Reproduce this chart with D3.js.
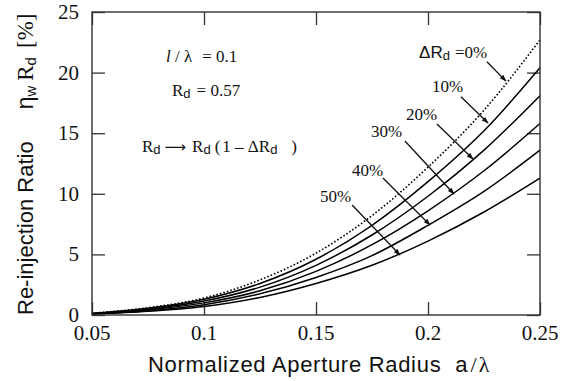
<!DOCTYPE html>
<html>
<head>
<meta charset="utf-8">
<script src="https://cdn.jsdelivr.net/npm/d3@7"></script>
<style>
  body { margin: 0; background: #fff; }
  svg { display: block; }
</style>
</head>
<body>
<svg id="chart" width="571" height="381"></svg>
<script>
// Normalized aperture radius a/lambda (sample points)
var radius = [0.05, 0.075, 0.1, 0.125, 0.15, 0.175, 0.2, 0.225, 0.25];

// Re-injection ratio [%] for each reflectance drop
var ratio0  = [0.15, 0.6, 1.4, 2.9, 5.1, 8.2, 12.2, 16.9, 22.7];
var ratio10 = [0.13, 0.55, 1.3, 2.6, 4.6, 7.4, 11.0, 15.2, 20.4];
var ratio20 = [0.12, 0.48, 1.15, 2.3, 4.1, 6.6, 9.8, 13.6, 18.1];
var ratio30 = [0.1, 0.42, 1.0, 2.0, 3.6, 5.8, 8.6, 11.9, 15.8];
var ratio40 = [0.09, 0.36, 0.85, 1.75, 3.1, 4.9, 7.4, 10.2, 13.6];
var ratio50 = [0.08, 0.3, 0.7, 1.45, 2.6, 4.1, 6.1, 8.5, 11.3];

var seriesNames = ['0%', '10%', '20%', '30%', '40%', '50%'];
var seriesValues = [ratio0, ratio10, ratio20, ratio30, ratio40, ratio50];

// Tick values
var xTicks = [0.05, 0.1, 0.15, 0.2, 0.25];
var xTickLabels = ['0.05', '0.1', '0.15', '0.2', '0.25'];
var yTicks = [0, 5, 10, 15, 20, 25];

// Label arrows in data units: label anchor, arrow start, arrow tip
var arrowLabels = ['10%', '20%', '30%', '40%', '50%'];
var labelA   = [0.2018, 0.1902, 0.1746, 0.1661, 0.1518];
var labelV   = [18.4, 16.09, 14.69, 11.47, 9.32];
var startA   = [0.2147, 0.2040, 0.1897, 0.1799, 0.1661];
var startV   = [18.0, 15.76, 14.36, 11.3, 9.08];
var tipA     = [0.2268, 0.2201, 0.2116, 0.2009, 0.1875];
var tipV     = [15.84, 12.87, 9.98, 7.43, 4.95];

var SERIF = '"Liberation Serif", "Times New Roman", "DejaVu Serif", serif';
var SANS = '"Liberation Sans", Arial, Helvetica, sans-serif';

var svg = d3.select('#chart');
var margin = {left: 92, right: 31, top: 12, bottom: 66};
var width = 571 - margin.left - margin.right;
var height = 381 - margin.top - margin.bottom;

var x = d3.scaleLinear().domain([0.05, 0.25]).range([0, width]);
var y = d3.scaleLinear().domain([0, 25]).range([height, 0]);

var g = svg.append('g')
    .attr('transform', 'translate(' + margin.left + ',' + margin.top + ')');

// Arrow marker
svg.append('defs').append('marker')
    .attr('id', 'head')
    .attr('viewBox', '0 0 10 10')
    .attr('refX', 9).attr('refY', 5)
    .attr('markerWidth', 8).attr('markerHeight', 7)
    .attr('markerUnits', 'userSpaceOnUse')
    .attr('orient', 'auto')
    .append('path')
    .attr('d', 'M0,1.5 L10,5 L0,8.5 Z')
    .attr('fill', '#111');

// Inner ticks on all four sides
var tickLen = 13;
function noDomain(s){ s.select('.domain').remove(); }
g.append('g')
    .attr('transform', 'translate(0,' + height + ')')
    .call(d3.axisTop(x).tickValues(xTicks).tickSize(tickLen).tickFormat(''))
    .call(noDomain);
g.append('g')
    .call(d3.axisBottom(x).tickValues(xTicks).tickSize(tickLen).tickFormat(''))
    .call(noDomain);
g.append('g')
    .call(d3.axisRight(y).tickValues(yTicks).tickSize(tickLen).tickFormat(''))
    .call(noDomain);
g.append('g')
    .attr('transform', 'translate(' + width + ',0)')
    .call(d3.axisLeft(y).tickValues(yTicks).tickSize(tickLen).tickFormat(''))
    .call(noDomain);
g.selectAll('.tick line').attr('stroke', '#333').attr('stroke-width', 1.3);

// Tick labels
g.selectAll('.xlab')
    .data(xTicks)
    .enter().append('text')
    .attr('class', 'xlab')
    .style('font-family', SERIF).style('font-size', '21px')
    .attr('fill', '#111')
    .attr('x', function(d){ return x(d); })
    .attr('y', height + 25)
    .attr('text-anchor', 'middle')
    .text(function(d, i){ return xTickLabels[i]; });

g.selectAll('.ylab')
    .data(yTicks)
    .enter().append('text')
    .attr('class', 'ylab')
    .style('font-family', SERIF).style('font-size', '21px')
    .attr('fill', '#111')
    .attr('x', -13)
    .attr('y', function(d){ return y(d) + 7; })
    .attr('text-anchor', 'end')
    .text(function(d){ return d; });

// Curves
var line = d3.line()
    .x(function(d){ return x(d[0]); })
    .y(function(d){ return y(d[1]); })
    .curve(d3.curveMonotoneX);

seriesValues.forEach(function(vals, i){
    g.append('path')
        .datum(radius.map(function(r, k){ return [r, vals[k]]; }))
        .attr('fill', 'none')
        .attr('stroke', '#000')
        .attr('stroke-width', i === 0 ? 1.6 : 1.5)
        .attr('stroke-dasharray', i === 0 ? '1.6,2' : null)
        .attr('d', line);
});

// Frame
g.append('rect')
    .attr('width', width).attr('height', height)
    .attr('fill', 'none')
    .attr('stroke', '#333')
    .attr('stroke-width', 1.4);

function note(sel){
    return sel.style('font-family', SERIF).style('font-size', '17px').attr('fill', '#111');
}
function sub(t, txt){
    t.append('tspan').style('font-family', SANS).style('font-size', '13px')
        .attr('dy', 2).text(txt);
}

// Arrows and percentage labels
arrowLabels.forEach(function(lab, i){
    g.append('line')
        .attr('x1', x(startA[i])).attr('y1', y(startV[i]))
        .attr('x2', x(tipA[i])).attr('y2', y(tipV[i]))
        .attr('stroke', '#111').attr('stroke-width', 1.3)
        .attr('marker-end', 'url(#head)');
    note(g.append('text'))
        .attr('x', x(labelA[i])).attr('y', y(labelV[i]))
        .text(lab);
});

// Delta R_d = 0% label and arrow
g.append('line')
    .attr('x1', x(0.2263)).attr('y1', y(20.9))
    .attr('x2', x(0.2348)).attr('y2', y(19.3))
    .attr('stroke', '#111').attr('stroke-width', 1.3)
    .attr('marker-end', 'url(#head)');
var t0 = note(g.append('text')).attr('x', x(0.196)).attr('y', y(21.2));
t0.append('tspan').style('font-family', SANS).text('\u0394R');
sub(t0, 'd');
t0.append('tspan').attr('dy', -2).attr('dx', 5).text('=' + seriesNames[0]);

// Parameter notes
var n1 = note(svg.append('text')).attr('x', 166).attr('y', 62);
n1.append('tspan').style('font-style', 'italic').text('l');
n1.append('tspan').text(' / \u03bb');
n1.append('tspan').attr('dx', 10).text('= 0.1');

var n2 = note(svg.append('text')).attr('x', 172).attr('y', 96);
n2.append('tspan').text('R');
sub(n2, 'd');
n2.append('tspan').attr('dy', -2).attr('dx', 6).text('= 0.57');

var n3 = note(svg.append('text')).attr('x', 142).attr('y', 152);
n3.append('tspan').text('R');
sub(n3, 'd');
n3.append('tspan').attr('dy', -2).attr('dx', 4)
    .style('font-family', '"DejaVu Sans", sans-serif').style('font-size', '15px').text('\u27f6');
n3.append('tspan').attr('dx', 6).text('R');
sub(n3, 'd');
n3.append('tspan').attr('dy', -2).attr('dx', 4).text('(');
n3.append('tspan').attr('dx', 2).text('1 \u2013 \u0394R');
sub(n3, 'd');
n3.append('tspan').attr('dy', -2).attr('dx', 14).text(')');

// X axis title
var xt = svg.append('text')
    .style('font-family', SANS).style('font-size', '22px').attr('fill', '#111')
    .attr('x', 148).attr('y', 372);
xt.append('tspan').style('letter-spacing', '0.7px').text('Normalized Aperture Radius');
xt.append('tspan').attr('dx', 14).text('a');
xt.append('tspan').style('font-family', SERIF).attr('dx', 3).text('/');
xt.append('tspan').style('font-family', SERIF).attr('dx', 2).text('\u03bb');

// Y axis title
var yt = svg.append('text')
    .style('font-family', SANS).style('font-size', '22px').attr('fill', '#111')
    .attr('transform', 'translate(33,315) rotate(-90)');
yt.append('tspan').text('Re-injection Ratio');
yt.append('tspan').attr('dx', 32).style('font-size', '23px').text('\u03b7');
yt.append('tspan').style('font-size', '15px').attr('dy', 3).text('w');
yt.append('tspan').style('font-family', SERIF).style('font-size', '23px').attr('dy', -3).attr('dx', 5).text('R');
yt.append('tspan').style('font-size', '15px').attr('dy', 3).text('d');
yt.append('tspan').style('font-family', SERIF).style('font-size', '23px').attr('dy', -3).attr('dx', 9).text('[%]');
</script>
</body>
</html>
